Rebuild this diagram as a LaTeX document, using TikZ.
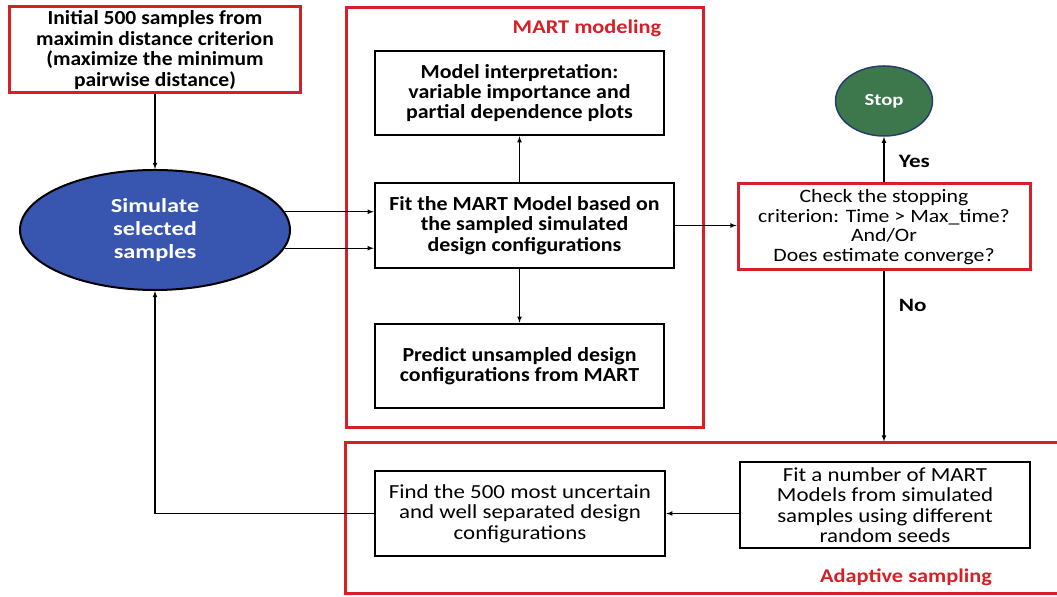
\documentclass[tikz,border=0pt]{standalone}
\usepackage{fontspec}
\setmainfont{Carlito}
\newfontfamily\initfont[FakeStretch=1.08]{Carlito}
\newfontfamily\martfont[FakeStretch=1.1]{Carlito}
\newfontfamily\lowfont[FakeStretch=1.15]{Carlito}
\newfontfamily\simfont[FakeStretch=1.22]{Carlito}
\usetikzlibrary{shapes.geometric}
\definecolor{framered}{RGB}{214,32,40}
\definecolor{simblue}{RGB}{56,86,176}
\definecolor{stopgreen}{RGB}{60,120,76}
\definecolor{stopedge}{RGB}{40,60,110}
\tikzset{
  redbox/.style={draw=framered, line width=3bp, inner sep=0pt, align=center},
  blackbox/.style={draw=black, line width=2.5bp, inner sep=0pt, align=center, font=\martfont\fontsize{20}{20.5}\selectfont\bfseries},
  plainbox/.style={blackbox, font=\lowfont\fontsize{20}{20.5}\selectfont},
  redlabel/.style={text=framered, font=\lowfont\fontsize{19.5}{20}\selectfont\bfseries},
  flowlabel/.style={font=\simfont\fontsize{19}{20}\selectfont\bfseries},
  flow/.style={->, line width=1.1bp},
}
\begin{document}
\begin{tikzpicture}[>=latex, x=1bp, y=1bp]
\useasboundingbox (0,0) rectangle (1057,597);
%%
  % Frame: MART modeling
  \node[redbox, minimum width=357bp, minimum height=420bp] (martfrm) at (524.5,379) {};
  \node[redlabel] (martlbl) at (587,569) {MART modeling};
  % Frame: Adaptive sampling
  \node[redbox, minimum width=729bp, minimum height=151bp] (adaptfrm) at (710.5,78.5) {};
  \node[redlabel] (adaptlbl) at (906,20) {Adaptive sampling};
%
  % Node: init
  \node[redbox, minimum width=290bp, minimum height=86bp, font=\initfont\fontsize{20}{20.5}\selectfont\bfseries] (init) at (155,547)
    {Initial 500 samples from\\maximin distance criterion\\(maximize the minimum\\pairwise distance)};
  % Node: sim
  \node[ellipse, draw=black, line width=2bp, fill=simblue, text=white, align=center,
        minimum width=270bp, minimum height=120bp, font=\simfont\fontsize{20}{23}\selectfont\bfseries] (sim) at (155,367)
    {Simulate\\selected\\samples};
  % Node: interp
  \node[blackbox, minimum width=289bp, minimum height=84bp] (interp) at (519.5,504)
    {Model interpretation:\\variable importance and\\partial dependence plots};
  % Node: fit
  \node[blackbox, minimum width=299bp, minimum height=85bp] (fit) at (524.5,371.5)
    {Fit the MART Model based on\\the sampled simulated\\design configurations};
  % Node: predict
  \node[blackbox, minimum width=289bp, minimum height=84bp] (predict) at (519.5,231)
    {Predict unsampled design\\configurations from MART};
  % Node: check
  \node[redbox, minimum width=292bp, minimum height=86bp, font=\lowfont\fontsize{19}{19.8}\selectfont] (check) at (884,370)
    {Check the stopping\\criterion: Time > Max\_time?\\And/Or\\Does estimate converge?};
  % Node: stop
  \node[ellipse, draw=stopedge, line width=1.5bp, fill=stopgreen, text=white,
        minimum width=97bp, minimum height=70bp, font=\simfont\fontsize{17}{18}\selectfont\bfseries] (stop) at (884,496) {Stop};
  % Node: find
  \node[plainbox, minimum width=290bp, minimum height=85bp] (find) at (520,83.5)
    {Find the 500 most uncertain\\and well separated design\\configurations};
  % Node: fitmany
  \node[plainbox, minimum width=290bp, minimum height=86bp] (fitmany) at (885,92)
    {Fit a number of MART\\Models from simulated\\samples using different\\random seeds};
%
  % Edge: init -> sim
  \draw[flow] (init) -- (sim);
  % Edge: sim -> fit
  \draw[flow] (sim.8) -- (sim.8 -| fit.west);
  \draw[flow] (sim.-8) -- (sim.-8 -| fit.west);
  % Edge: fit -> interp
  \draw[flow] (interp.south |- fit.north) -- (interp.south);
  % Edge: fit -> predict
  \draw[flow] (predict.north |- fit.south) -- (predict.north);
  % Edge: fit -> check
  \draw[flow] (fit.east) -- (fit.east -| check.west);
  % Edge: check -> stop
  \draw[flow] (check) -- node[pos=0.45, right=11bp, flowlabel] (yes) {Yes} (stop);
  % Edge: check -> adaptive sampling
  \draw[flow] (check.south) -- node[pos=0.2, right=11bp, flowlabel] (no) {No} (check.south |- adaptfrm.north);
  % Edge: fitmany -> find
  \draw[flow] (find.east -| fitmany.west) -- (find.east);
  % Edge: find -> sim
  \draw[flow] (find.west) -| (sim.south);
%
\end{tikzpicture}
\end{document}
